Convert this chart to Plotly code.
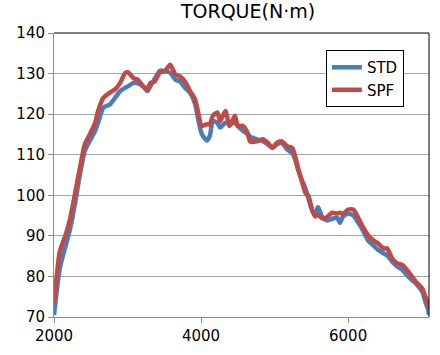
import plotly.graph_objects as go

rpm = [2000, 2080, 2150, 2220, 2290, 2350, 2420, 2490, 2560, 2600, 2670, 2760, 2830, 2900,
       2970, 3010, 3080, 3140, 3210, 3270, 3310, 3370, 3440, 3510, 3580, 3650, 3710, 3780,
       3850, 3920, 3960, 4010, 4080, 4120, 4160, 4220, 4260, 4330, 4390, 4460, 4500, 4570,
       4630, 4670, 4760, 4840, 4910, 4970, 5030, 5100, 5170, 5240, 5280, 5320, 5370, 5420,
       5460, 5510, 5550, 5590, 5650, 5710, 5780, 5850, 5890, 5930, 6000, 6070, 6140, 6200,
       6270, 6340, 6410, 6480, 6530, 6600, 6670, 6740, 6800, 6870, 6940, 7010, 7050, 7090, 7100]

std = [70.5, 82.1, 87.0, 91.8, 98.4, 104.9, 111.0, 113.5, 115.9, 117.9, 121.6, 122.4, 124.0, 125.7,
       126.5, 126.9, 127.7, 127.6, 126.9, 125.7, 126.9, 128.7, 130.7, 130.6, 130.2, 128.5, 128.1, 126.5,
       125.3, 122.4, 118.8, 115.1, 113.5, 114.7, 118.3, 117.9, 116.7, 117.9, 117.5, 117.9, 117.1, 115.9,
       115.1, 114.4, 113.8, 113.3, 112.5, 111.7, 112.5, 112.9, 111.3, 110.4, 108.8, 106.3, 103.8, 101.7,
       99.2, 96.3, 95.0, 97.1, 94.6, 93.8, 94.2, 94.5, 93.2, 94.8, 95.5, 95.0, 93.2, 91.4,
       88.9, 87.7, 86.5, 85.7, 85.2, 83.6, 82.4, 81.6, 80.3, 79.1, 77.9, 76.2, 73.8, 71.7, 70.5]

spf = [73.5, 86.2, 89.8, 94.3, 100.8, 106.5, 112.6, 115.1, 117.9, 120.8, 124.0, 125.3, 126.1, 127.7,
       130.2, 130.3, 128.9, 128.5, 126.9, 126.1, 127.7, 128.1, 130.3, 130.6, 132.2, 129.8, 129.3, 128.1,
       125.7, 123.6, 120.4, 117.1, 117.5, 117.5, 119.6, 120.4, 118.3, 120.8, 117.1, 119.6, 117.1, 117.1,
       115.5, 113.2, 113.3, 113.8, 112.9, 111.7, 112.9, 113.3, 112.1, 111.7, 109.6, 106.7, 103.5, 100.6,
       99.8, 96.5, 94.8, 95.2, 94.3, 94.6, 95.7, 95.5, 95.7, 95.4, 96.5, 96.5, 94.4, 92.2,
       90.2, 88.9, 88.1, 86.9, 86.9, 84.4, 83.2, 82.8, 81.6, 79.9, 78.3, 77.0, 75.0, 73.4, 72.0]

x_ticks = [2000, 4000, 6000]
y_ticks = [70, 80, 90, 100, 110, 120, 130, 140]

fig = go.Figure()
fig.add_trace(go.Scatter(x=rpm, y=std, name="STD", mode="lines",
                         line=dict(color="#4A7EBB", width=4.5, shape="spline", smoothing=0.6)))
fig.add_trace(go.Scatter(x=rpm, y=spf, name="SPF", mode="lines",
                         line=dict(color="#BE4B48", width=4.5, shape="spline", smoothing=0.6)))

font = "DejaVu Sans, Verdana, sans-serif"
fig.update_layout(
    width=440, height=355,
    margin=dict(l=54, r=11, t=33, b=38, autoexpand=False),
    paper_bgcolor="white", plot_bgcolor="white",
    font=dict(family=font, size=15, color="black"),
    title=dict(text="TORQUE(N·m)", x=248 / 440, xanchor="center", y=1 - 5 / 355, yanchor="top",
               font=dict(family=font, size=19, color="black")),
    showlegend=True,
    legend=dict(x=0.725, y=0.94, xanchor="left", yanchor="top",
                bordercolor="black", borderwidth=1, bgcolor="white",
                font=dict(family=font, size=15), itemwidth=30,
                tracegroupgap=0),
    xaxis=dict(range=[2000, 7100], tickvals=x_ticks, ticks="outside", ticklen=5,
               tickcolor="#8C8C8C", showline=True, linecolor="#8C8C8C", linewidth=1,
               showgrid=False, zeroline=False, tickfont=dict(size=15), automargin=False),
    yaxis=dict(range=[70, 140], tickvals=y_ticks, ticks="outside", ticklen=5,
               tickcolor="#8C8C8C", showline=True, linecolor="#8C8C8C", linewidth=1,
               showgrid=True, gridcolor="#A6A6A6", gridwidth=1, zeroline=False,
               tickfont=dict(size=15), automargin=False),
    shapes=[
        dict(type="line", xref="paper", yref="paper", x0=0, x1=1, y0=1, y1=1,
             line=dict(color="black", width=1)),
        dict(type="line", xref="paper", yref="paper", x0=1, x1=1, y0=0, y1=1,
             line=dict(color="black", width=1)),
    ],
)

fig.write_html("out.html", config={"displayModeBar": False},
               post_script="document.body.style.margin='0px';document.body.style.overflow='hidden';")
